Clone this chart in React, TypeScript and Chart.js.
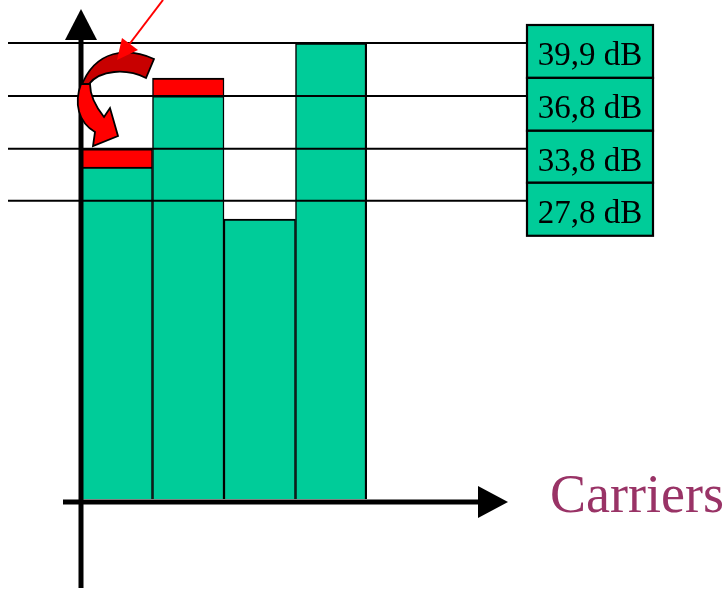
import React, { useEffect, useRef } from "react";
import { Chart, registerables } from "chart.js";

Chart.register(...registerables);

// ---- data ----
const carriers = ["C1", "C2", "C3", "C4"];
// relative carrier power levels (arbitrary units, 100 = highest level line)
const baseLevel = [72.8, 88.4, 61.4, 100];
const boostLevel = [4.0, 3.9, 0, 0];
// reference level lines (same relative units) and their labels
const levelPositions = [100, 88.4, 76.8, 65.4];
const levelLabels = ["39,9 dB", "36,8 dB", "33,8 dB", "27,8 dB"];
const axisTitle = "Carriers";

const GREEN = "#00CC99";
const RED = "#FF0000";
const DARK_RED = "#C80000";
const SERIF = '"Liberation Serif", "Times New Roman", serif';

const decorPlugin = {
  id: "decor",
  afterDatasetsDraw(chart: any) {
    const ctx: CanvasRenderingContext2D = chart.ctx;
    const area = chart.chartArea;
    const y = chart.scales.y;
    const x0 = area.left;
    const yBase = area.bottom;
    const boxLeft = 527;
    const boxW = 126;

    ctx.save();

    // level lines
    const lineYs = levelPositions.map((v) => y.getPixelForValue(v));
    ctx.strokeStyle = "#000";
    ctx.lineWidth = 2;
    lineYs.forEach((ly) => {
      ctx.beginPath();
      ctx.moveTo(8, ly);
      ctx.lineTo(boxLeft, ly);
      ctx.stroke();
    });

    // label boxes
    lineYs.forEach((ly, i) => {
      const top = ly - 18;
      const bottom = i < lineYs.length - 1 ? lineYs[i + 1] - 18 : ly + 35;
      ctx.fillStyle = GREEN;
      ctx.fillRect(boxLeft, top, boxW, bottom - top);
      ctx.strokeStyle = "#000";
      ctx.lineWidth = 2.2;
      ctx.strokeRect(boxLeft, top, boxW, bottom - top);
      ctx.fillStyle = "#000";
      ctx.font = `33px ${SERIF}`;
      ctx.textAlign = "center";
      ctx.textBaseline = "alphabetic";
      ctx.fillText(levelLabels[i], boxLeft + boxW / 2, top + 40);
    });

    // axes
    ctx.strokeStyle = "#000";
    ctx.fillStyle = "#000";
    ctx.lineWidth = 5;
    // y axis
    ctx.beginPath();
    ctx.moveTo(x0, 588);
    ctx.lineTo(x0, 38);
    ctx.stroke();
    ctx.beginPath();
    ctx.moveTo(x0, 9);
    ctx.lineTo(x0 - 16, 40);
    ctx.lineTo(x0 + 16, 40);
    ctx.closePath();
    ctx.fill();
    // x axis
    const xa = yBase + 3;
    ctx.beginPath();
    ctx.moveTo(63, xa);
    ctx.lineTo(480, xa);
    ctx.stroke();
    ctx.beginPath();
    ctx.moveTo(508, xa);
    ctx.lineTo(478, xa - 16);
    ctx.lineTo(478, xa + 16);
    ctx.closePath();
    ctx.fill();

    // curved block arrow (dark part)
    ctx.lineWidth = 1.8;
    ctx.strokeStyle = "#000";
    ctx.fillStyle = DARK_RED;
    ctx.beginPath();
    ctx.moveTo(154, 59);
    ctx.bezierCurveTo(128, 47, 95, 49, 81, 87);
    ctx.lineTo(89, 84);
    ctx.bezierCurveTo(100, 70, 126, 68, 146, 78);
    ctx.closePath();
    ctx.fill();
    ctx.stroke();

    // curved block arrow (bright part with head)
    ctx.fillStyle = RED;
    ctx.beginPath();
    ctx.moveTo(81, 84);
    ctx.bezierCurveTo(74, 103, 78, 122, 95, 132);
    ctx.lineTo(93, 146);
    ctx.lineTo(118, 136);
    ctx.lineTo(110, 108);
    ctx.lineTo(104, 117);
    ctx.bezierCurveTo(96, 107, 90, 96, 90, 84);
    ctx.closePath();
    ctx.fill();
    ctx.stroke();

    // thin red pointer arrow
    ctx.strokeStyle = RED;
    ctx.fillStyle = RED;
    ctx.lineWidth = 2;
    ctx.beginPath();
    ctx.moveTo(163, 0);
    ctx.lineTo(128, 46);
    ctx.stroke();
    ctx.beginPath();
    ctx.moveTo(117, 60);
    ctx.lineTo(122, 38);
    ctx.lineTo(138, 50);
    ctx.closePath();
    ctx.fill();

    // axis title
    ctx.fillStyle = "#993366";
    ctx.font = `54px ${SERIF}`;
    ctx.textAlign = "left";
    ctx.textBaseline = "alphabetic";
    ctx.fillText(axisTitle, 550, 512);

    ctx.restore();
  },
};

export default function App() {
  const ref = useRef<HTMLCanvasElement | null>(null);

  useEffect(() => {
    if (!ref.current) return;
    const border = (c: any) => ({
      top: 2,
      left: 1.5,
      right: c.dataIndex === carriers.length - 1 ? 2.5 : 1.5,
      bottom: 0,
    });
    const chart = new Chart(ref.current, {
      type: "bar",
      data: {
        labels: carriers,
        datasets: [
          {
            label: "base",
            data: baseLevel,
            backgroundColor: GREEN,
            borderColor: "#000",
            borderWidth: border,
            borderSkipped: "start",
            categoryPercentage: 1,
            barPercentage: 1,
          },
          {
            label: "boost",
            data: boostLevel,
            backgroundColor: RED,
            borderColor: "#000",
            borderWidth: border,
            borderSkipped: "start",
            categoryPercentage: 1,
            barPercentage: 1,
          },
        ],
      },
      options: {
        animation: false,
        responsive: true,
        maintainAspectRatio: false,
        layout: { padding: { left: 81, right: 360, top: 43, bottom: 93 } },
        plugins: {
          legend: { display: false },
          tooltip: { enabled: false },
          title: { display: false },
        },
        scales: {
          x: { stacked: true, display: false, grid: { display: false } },
          y: { stacked: true, display: false, min: 0, max: 100 },
        },
      },
      plugins: [decorPlugin],
    });
    return () => chart.destroy();
  }, []);

  return (
    <div
      style={{
        position: "absolute",
        left: 0,
        top: 0,
        width: 727,
        height: 592,
        background: "#fff",
      }}
    >
      <canvas ref={ref} />
    </div>
  );
}
